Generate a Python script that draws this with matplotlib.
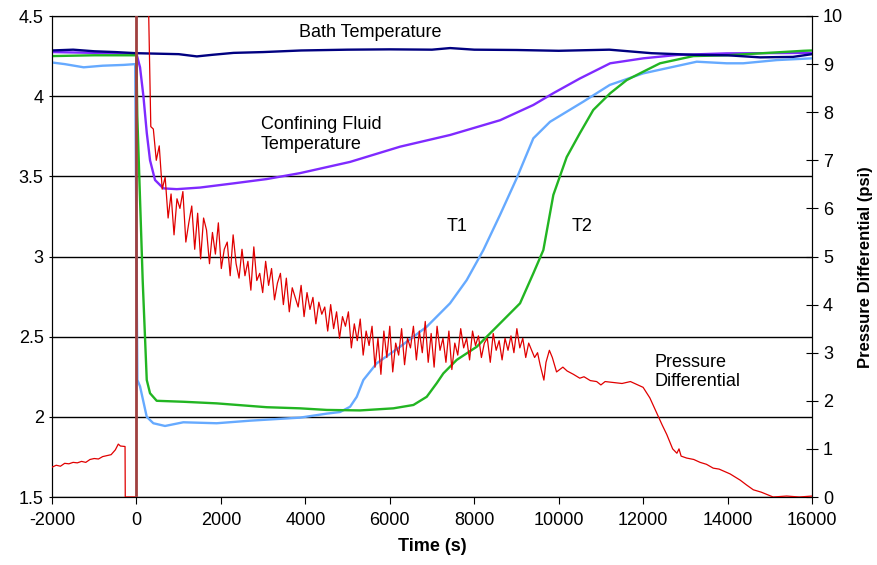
import numpy as np
import matplotlib
matplotlib.use('Agg')  # sem display
import matplotlib.pyplot as plt

plt.rcParams['font.family'] = ['Liberation Sans', 'DejaVu Sans']
plt.rcParams['axes.unicode_minus'] = False

# Temperaturas (eixo esquerdo)
t_bath = [-2000, -1500, -1000, -500, 0, 500, 1000, 1430, 1800, 2300, 3000, 3900, 5000,
          6000, 7000, 7430, 8000, 9000, 10000, 11200, 12200, 13200, 14000, 14770, 15550, 16000]
bath = [4.285, 4.29, 4.28, 4.275, 4.268, 4.265, 4.262, 4.248, 4.258, 4.27, 4.275, 4.285, 4.29,
        4.292, 4.29, 4.30, 4.29, 4.288, 4.283, 4.29, 4.268, 4.258, 4.255, 4.242, 4.245, 4.262]

t_conf = [-2000, 0, 85, 165, 245, 322, 440, 637, 955, 1506, 2296, 3086, 3875, 5060, 6244,
          7430, 8613, 9400, 9870, 10500, 11220, 12005, 12800, 13980, 16000]
conf = [4.275, 4.265, 4.18, 4.0, 3.77, 3.60, 3.477, 3.425, 3.42, 3.43, 3.456, 3.483, 3.52, 3.59, 3.685,
        3.758, 3.85, 3.945, 4.018, 4.11, 4.205, 4.236, 4.257, 4.267, 4.27]

t_t1 = [-2000, -1700, -1250, -800, -300, -30, 22, 85, 244, 400, 677, 1110, 1900, 2690, 3875, 4507,
        4822, 5060, 5218, 5375, 5691, 6244, 6875, 7427, 7822, 8216, 8612, 9006, 9400, 9795, 10190,
        10585, 11210, 12000, 12800, 13270, 13980, 14370, 15165, 16000]
t1 = [4.21, 4.20, 4.18, 4.19, 4.195, 4.20, 2.23, 2.19, 2.0, 1.96, 1.943, 1.966, 1.96, 1.976, 1.995, 2.02,
      2.03, 2.063, 2.125, 2.23, 2.334, 2.437, 2.562, 2.708, 2.853, 3.04, 3.26, 3.488, 3.737, 3.84, 3.903,
      3.966, 4.07, 4.142, 4.188, 4.215, 4.205, 4.205, 4.225, 4.236]

t_t2 = [-2000, -1000, 0, 20, 148, 244, 322, 480, 1110, 1900, 3086, 3875, 4507, 5296, 6085, 6560,
        6875, 7112, 7269, 7585, 8059, 8612, 9085, 9400, 9637, 9874, 10190, 10500, 10820, 11220,
        11610, 12005, 12400, 13190, 13980, 14770, 15800, 16000]
t2 = [4.25, 4.255, 4.255, 3.88, 2.85, 2.23, 2.147, 2.10, 2.094, 2.084, 2.06, 2.053, 2.043, 2.04, 2.053,
      2.074, 2.125, 2.21, 2.271, 2.355, 2.437, 2.583, 2.708, 2.895, 3.04, 3.384, 3.62, 3.768, 3.914,
      4.018, 4.10, 4.153, 4.205, 4.25, 4.255, 4.267, 4.283, 4.285]

# Pressao diferencial (eixo direito)
t_dp_pre = [-2000, -1900, -1800, -1700, -1600, -1500, -1400, -1300, -1200, -1100, -1000, -900,
            -800, -700, -600, -500, -430, -380, -270, -265, 0]
dp_pre = [0.62, 0.66, 0.64, 0.70, 0.69, 0.72, 0.71, 0.74, 0.72, 0.78, 0.80, 0.79,
          0.84, 0.86, 0.88, 0.98, 1.10, 1.06, 1.05, 0.0, 0.0]

t_dp_drop = [280, 340]
dp_drop = [10.5, 7.7]

t_dp_noisy = np.arange(400, 9500, 70)
dp_noisy = [7.65, 7.0, 7.3, 6.4, 6.65, 5.8, 6.3, 5.45, 6.2, 6.0,
            6.35, 5.3, 5.7, 6.05, 5.15, 5.9, 4.95, 5.8, 5.55, 4.85,
            5.5, 5.05, 5.7, 4.75, 5.15, 5.3, 4.6, 5.45, 4.85, 4.55,
            5.15, 4.6, 4.9, 4.3, 5.2, 4.5, 4.65, 4.25, 4.9, 4.4,
            4.75, 4.1, 4.45, 4.65, 4.0, 4.55, 3.85, 4.35, 4.15, 3.95,
            4.4, 3.75, 4.25, 3.9, 4.15, 3.6, 4.05, 3.8, 3.95, 3.45,
            4.0, 3.5, 3.85, 3.3, 3.75, 3.55, 3.85, 3.1, 3.6, 3.25,
            3.7, 2.95, 3.45, 3.15, 3.55, 2.7, 3.3, 2.55, 3.45, 2.9,
            3.55, 2.6, 3.2, 2.95, 3.5, 2.75, 3.3, 3.1, 3.55, 2.85,
            3.45, 3.0, 3.65, 2.8, 3.4, 2.7, 3.55, 3.05, 3.3, 2.8,
            3.45, 2.65, 3.2, 2.95, 3.5, 3.1, 3.3, 2.85, 3.45, 3.15,
            3.35, 2.9, 3.2, 3.3, 2.8, 3.4, 3.05, 3.25, 2.85, 3.3,
            3.05, 3.35, 3.0, 3.5, 3.1, 3.3, 2.9, 3.2, 3.05, 2.9]

t_dp_tail = [9500, 9560, 9650, 9700, 9780, 9850, 9950, 10100, 10200, 10350, 10500, 10600, 10750,
             10900, 11000, 11100, 11300, 11500, 11700, 11850, 12000, 12160, 12320, 12450, 12560,
             12700, 12800, 12850, 12900, 13030, 13200, 13350, 13500, 13660, 13800, 14060, 14300,
             14450, 14610, 14800, 15080, 15400, 15700, 16000]
dp_tail = [3.0, 2.75, 2.43, 2.8, 3.05, 2.9, 2.6, 2.7, 2.62, 2.55, 2.47, 2.5, 2.42,
           2.4, 2.33, 2.4, 2.38, 2.36, 2.4, 2.34, 2.28, 2.06, 1.75, 1.5, 1.3,
           1.0, 0.91, 1.0, 0.85, 0.81, 0.78, 0.72, 0.68, 0.6, 0.58, 0.48, 0.35,
           0.25, 0.15, 0.1, 0.0, 0.02, 0.0, 0.02]

# junta os trechos (NaN separa o trecho fora da escala)
t_dp = list(t_dp_pre) + [np.nan] + t_dp_drop + list(t_dp_noisy) + t_dp_tail
dp = list(dp_pre) + [np.nan] + dp_drop + dp_noisy + dp_tail

fig = plt.figure(figsize=(8.77, 5.65), dpi=100)
ax = fig.add_axes([52 / 877, 1 - 497 / 565, 760 / 877, 481 / 565])
ax2 = ax.twinx()

ax.plot(t_conf, conf, color='#7F2AFF', lw=1.7, zorder=3)
ax.plot(t_t1, t1, color='#66AAFF', lw=1.7, zorder=3)
ax.plot(t_t2, t2, color='#22B522', lw=1.7, zorder=3)
ax.plot(t_bath, bath, color='#000080', lw=1.7, zorder=4)

ax2.plot(t_dp, dp, color='#E00000', lw=0.9, zorder=3)
ax2.axvline(0, color='#A0403F', lw=2, zorder=4)

ax.set_xlim(-2000, 16000)
ax.set_ylim(1.5, 4.5)
ax2.set_ylim(0, 10)
ax.set_xticks(np.arange(-2000, 16001, 2000))
ax.set_yticks(np.arange(1.5, 4.51, 0.5))
ax.set_yticklabels(['1.5', '2', '2.5', '3', '3.5', '4', '4.5'])
ax2.set_yticks(range(0, 11))

ax.grid(axis='y', color='black', lw=1)
ax.set_axisbelow(True)
ax.tick_params(axis='y', length=2, labelsize=13, pad=4)
ax.tick_params(axis='x', length=5, labelsize=13, pad=6)
ax2.tick_params(axis='y', direction='inout', length=8, labelsize=13, pad=4)

ax.set_xlabel('Time (s)', fontsize=13, fontweight='bold', labelpad=6)
ax2.set_ylabel('Pressure Differential (psi)', fontsize=12, fontweight='bold')
ax2.yaxis.set_label_coords(1.06, 0.478)

# rotulos das curvas
ax.text(3850, 4.40, 'Bath Temperature', fontsize=13, ha='left', va='center')
ax.text(2950, 3.76, 'Confining Fluid\nTemperature', fontsize=13, ha='left', va='center',
        linespacing=1.25)
ax.text(7590, 3.19, 'T1', fontsize=13, ha='center', va='center')
ax.text(10550, 3.19, 'T2', fontsize=13, ha='center', va='center')
ax.text(12280, 2.28, 'Pressure\nDifferential', fontsize=13, ha='left', va='center',
        linespacing=1.2)

fig.savefig('out.png', dpi=100)
plt.close(fig)
